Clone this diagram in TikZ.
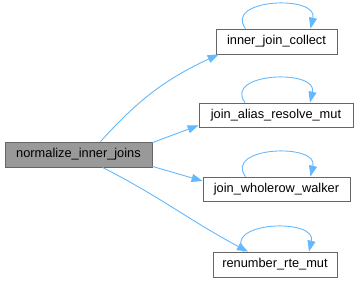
\documentclass[tikz,border=0pt]{standalone}
\usepackage{fontspec}
\setmainfont{Liberation Sans}
\usetikzlibrary{arrows.meta}
\definecolor{edgeblue}{HTML}{63B8FF}
\definecolor{boxgray}{HTML}{999999}
\definecolor{linegray}{HTML}{666666}

\begin{document}
\begin{tikzpicture}[x=1bp, y=1bp, >={Triangle[length=11bp, width=8bp]},
    fn/.style={draw=linegray, fill=white, line width=0.8bp, inner sep=0pt,
      minimum height=25bp, font=\fontsize{12.8bp}{15bp}\selectfont},
    edge/.style={->, draw=edgeblue, line width=0.9bp}]
    \useasboundingbox (0,0) rectangle (358,285);

    \node[fn, fill=boxgray, minimum width=147bp] (main) at (78.5,130.5) {normalize\_inner\_joins};

    \node[fn, minimum width=121bp] (collect) at (276.5,243.5) {inner\_join\_collect};
    \node[fn, minimum width=154bp, minimum height=24bp] (alias) at (276,170) {join\_alias\_resolve\_mut};
    \node[fn, minimum width=147bp, minimum height=24bp] (wholerow) at (276.5,96) {join\_wholerow\_walker};
    \node[fn, minimum width=124bp] (renumber) at (275,20.5) {renumber\_rte\_mut};

    % calls from the main function
    \draw[edge] ([xshift=22bp]main.north) to[out=48, in=205] ([xshift=3bp]collect.south west);
    \draw[edge] ([yshift=-1bp]main.north east) -- ([yshift=2bp]alias.south west);
    \draw[edge] ([yshift=1bp]main.south east) -- ([yshift=8bp]wholerow.west);
    \draw[edge] ([xshift=24bp]main.south) to[out=-27, in=152] ([xshift=-27bp]renumber.north);

    % recursive calls
    \foreach \fnname in {collect, alias, wholerow, renumber}
      \draw[edge] ([xshift=-31bp]\fnname.north) .. controls +(-22bp,30bp) and +(8bp,34bp) .. ([xshift=34bp]\fnname.north);
  \end{tikzpicture}
\end{document}
